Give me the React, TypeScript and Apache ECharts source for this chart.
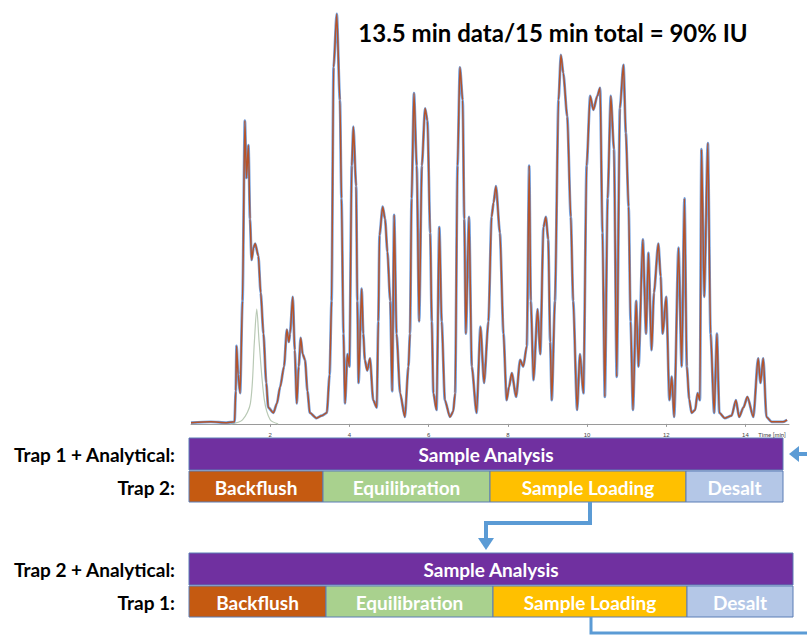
import React, { useEffect, useRef } from "react";
import * as echarts from "echarts";

// Chromatogram (minutes, relative intensity)
const times = [0.0, 0.5, 0.9, 1.10, 1.13, 1.15, 1.19, 1.24, 1.30, 1.36, 1.40, 1.45, 1.49, 1.53, 1.58, 1.62, 1.70, 1.76, 1.83, 1.90, 1.95, 2.08, 2.17, 2.25, 2.35, 2.42, 2.47, 2.50, 2.57, 2.62, 2.67, 2.72, 2.77, 2.82, 2.88, 2.94, 3.00, 3.17, 3.30, 3.43, 3.50, 3.55, 3.60, 3.68, 3.76, 3.80, 3.85, 3.89, 3.95, 4.00, 4.06, 4.10, 4.17, 4.20, 4.23, 4.31, 4.35, 4.39, 4.45, 4.52, 4.60, 4.69, 4.73, 4.76, 4.84, 4.90, 4.96, 5.03, 5.08, 5.13, 5.19, 5.28, 5.40, 5.49, 5.53, 5.57, 5.63, 5.70, 5.76, 5.83, 5.91, 5.97, 6.04, 6.08, 6.12, 6.20, 6.27, 6.33, 6.41, 6.54, 6.62, 6.67, 6.73, 6.79, 6.86, 6.90, 6.94, 7.02, 7.09, 7.21, 7.31, 7.40, 7.51, 7.59, 7.64, 7.70, 7.80, 7.89, 7.97, 8.03, 8.10, 8.21, 8.31, 8.39, 8.48, 8.54, 8.58, 8.65, 8.75, 8.82, 8.90, 8.96, 9.02, 9.07, 9.11, 9.19, 9.28, 9.34, 9.40, 9.50, 9.59, 9.65, 9.75, 9.82, 9.91, 9.99, 10.08, 10.16, 10.26, 10.33, 10.39, 10.45, 10.52, 10.60, 10.68, 10.75, 10.83, 10.92, 10.98, 11.05, 11.10, 11.16, 11.24, 11.30, 11.41, 11.49, 11.55, 11.63, 11.69, 11.80, 11.86, 11.91, 12.00, 12.08, 12.14, 12.20, 12.31, 12.39, 12.46, 12.52, 12.58, 12.64, 12.73, 12.79, 12.85, 12.89, 12.96, 13.05, 13.12, 13.21, 13.28, 13.34, 13.48, 13.65, 13.76, 13.84, 13.95, 14.05, 14.20, 14.32, 14.38, 14.45, 14.53, 14.66, 14.95, 15.05];
const signal = [0.3, 0.5, 0.3, 0.5, 8, 19, 12, 7.5, 30, 74, 60, 68, 50, 40, 43, 44, 41, 32, 22, 10, 4, 2.7, 5, 9, 14, 23, 20, 22, 31, 18, 5, 14, 21, 17, 15.6, 8, 2.7, 1.4, 2, 2.7, 12, 30, 87, 100, 79, 55, 22, 5, 17, 14, 63, 72.5, 58, 30, 10, 33, 22, 15.6, 13, 16, 5.8, 4, 25, 46, 53, 50, 42, 30, 8, 51, 22, 7.5, 1.7, 14, 22, 55, 80.7, 63, 25, 63, 77, 74, 46.6, 25, 7.5, 3.4, 48, 25, 5.8, 1.7, 3, 7.5, 63, 87, 79, 50, 22, 50.5, 14, 2.7, 23.7, 10, 25, 50.5, 54, 58, 46.6, 22, 5.8, 9, 12.4, 6.6, 15.6, 14, 19, 63, 30, 10.7, 28, 17, 48, 50.5, 45, 20, 5.8, 30, 79, 90, 85.6, 75, 50.5, 30, 3.4, 17, 7.5, 63, 80, 76.6, 80, 82, 46.6, 6.6, 55, 80, 67, 11.5, 77, 87.6, 71, 53, 25, 3.4, 30, 14, 45, 22, 41.7, 18, 32, 44, 36, 22, 31, 5.8, 11.5, 1.7, 43, 14, 55, 14, 6, 2.7, 3.4, 7.5, 5.8, 67, 31, 68.5, 22, 2.7, 22, 2.7, 1.4, 2, 5.8, 1.7, 4, 6.6, 1.7, 16, 10, 16, 1.7, 0.5, 0.5, 1];
// faint early trace
const faintTimes = [1.0, 1.3, 1.5, 1.6, 1.66, 1.72, 1.85, 2.0, 2.2];
const faintSignal = [0, 1, 5, 20, 28, 20, 6, 1, 0];

const xTicks = [2, 4, 6, 8, 10, 12, 14];
const title = "13.5 min data/15 min total = 90% IU";

const rowLabels = ["Trap 1 + Analytical:", "Trap 2:", "Trap 2 + Analytical:", "Trap 1:"];
const phases = ["Backflush", "Equilibration", "Sample Loading", "Desalt"];
const phaseColors = ["#C55A11", "#A9D18E", "#FFC000", "#B4C7E7"];
const analysisLabel = "Sample Analysis";

const FONT = "Lato, 'Open Sans', sans-serif";

export default function App() {
  const ref = useRef<HTMLDivElement>(null);
  useEffect(() => {
    document.body.style.margin = "0";
    const chart = echarts.init(ref.current!, null, { renderer: "svg" });
    const pair = (t: number[], v: number[]) => t.map((x, i) => [x, v[i]]);

    const txt = (x: number, y: number, text: string, size: number, fill: string, align = "center") => ({
      type: "text",
      x,
      y,
      silent: true,
      style: {
        text,
        fill,
        font: `bold ${size}px ${FONT}`,
        align,
        textAlign: align,
        verticalAlign: "middle",
        textVerticalAlign: "middle",
      },
    });
    const rect = (x: number, y: number, w: number, h: number, fill: string) => ({
      type: "rect",
      shape: { x, y, width: w, height: h },
      style: { fill, stroke: "#5B7DB5", lineWidth: 1 },
    });

    const graphics: any[] = [];
    const rows = [
      { y: 438, right: 783, bounds: [189, 323, 490, 686, 783], labelA: rowLabels[0], labelB: rowLabels[1] },
      { y: 553, right: 793, bounds: [189, 326, 493, 687, 793], labelA: rowLabels[2], labelB: rowLabels[3] },
    ];
    rows.forEach((r) => {
      graphics.push(rect(189, r.y, r.right - 189, 32, "#7030A0"));
      graphics.push(txt((189 + r.right) / 2, r.y + 16, analysisLabel, 19, "#ffffff"));
      for (let i = 0; i < 4; i++) {
        const x0 = r.bounds[i], x1 = r.bounds[i + 1];
        graphics.push(rect(x0, r.y + 33, x1 - x0, 31, phaseColors[i]));
        graphics.push(txt((x0 + x1) / 2, r.y + 49, phases[i], 19, "#ffffff"));
      }
      graphics.push(txt(175, r.y + 16, r.labelA, 19, "#000000", "right"));
      graphics.push(txt(175, r.y + 49, r.labelB, 19, "#000000", "right"));
    });
    const blue = "#5B9BD5";
    graphics.push({ type: "line", shape: { x1: 807, y1: 454, x2: 796, y2: 454 }, style: { stroke: blue, lineWidth: 4 } });
    graphics.push({ type: "polygon", shape: { points: [[789, 454], [799, 446], [799, 462]] }, style: { fill: blue } });
    graphics.push({ type: "polyline", shape: { points: [[590, 502], [590, 523], [486, 523], [486, 540]] }, style: { stroke: blue, lineWidth: 4, fill: null } });
    graphics.push({ type: "polygon", shape: { points: [[478, 538], [494, 538], [486, 550]] }, style: { fill: blue } });
    graphics.push({ type: "polyline", shape: { points: [[591, 617], [591, 633], [807, 633]] }, style: { stroke: blue, lineWidth: 3, fill: null } });
    graphics.push(txt(553, 32, title, 24, "#000000"));
    graphics.push({ type: "text", x: 772, y: 434, silent: true, style: { text: "Time [min]", fill: "#444", font: `6px ${FONT}`, align: "center", textAlign: "center", verticalAlign: "middle", textVerticalAlign: "middle" } });

    chart.setOption({
      animation: false,
      grid: { left: 191, right: 18, top: 14, bottom: 213 },
      xAxis: {
        type: "value",
        min: 0,
        max: 15.1,
        interval: 2,
        axisLine: { lineStyle: { color: "#9a9a9a", width: 1 } },
        axisTick: { show: true, length: 3, lineStyle: { color: "#9a9a9a" } },
        splitLine: { show: false },
        axisLabel: {
          fontSize: 6,
          color: "#444",
          margin: 4,
          showMinLabel: false,
          showMaxLabel: false,
          formatter: (v: number) => (xTicks.includes(v) ? String(v) : ""),
        },
      },
      yAxis: { type: "value", min: -1, max: 100, show: false, splitLine: { show: false } },
      series: [
        {
          type: "line",
          data: pair(faintTimes, faintSignal),
          showSymbol: false,
          clip: false,
          smooth: 0.3,
          lineStyle: { color: "#b9c9b5", width: 1.2 },
        },
        {
          type: "line",
          data: pair(times, signal),
          showSymbol: false,
          clip: false,
          smooth: 0.25,
          smoothMonotone: "x",
          lineStyle: { color: "#5a8fd8", width: 2.8, opacity: 0.85 },
        },
        {
          type: "line",
          data: pair(times, signal),
          showSymbol: false,
          clip: false,
          smooth: 0.25,
          smoothMonotone: "x",
          lineStyle: { color: "#b5532a", width: 1.5 },
        },
      ],
      graphic: graphics,
    });
    return () => chart.dispose();
  }, []);
  return <div ref={ref} style={{ width: 807, height: 641 }} />;
}
